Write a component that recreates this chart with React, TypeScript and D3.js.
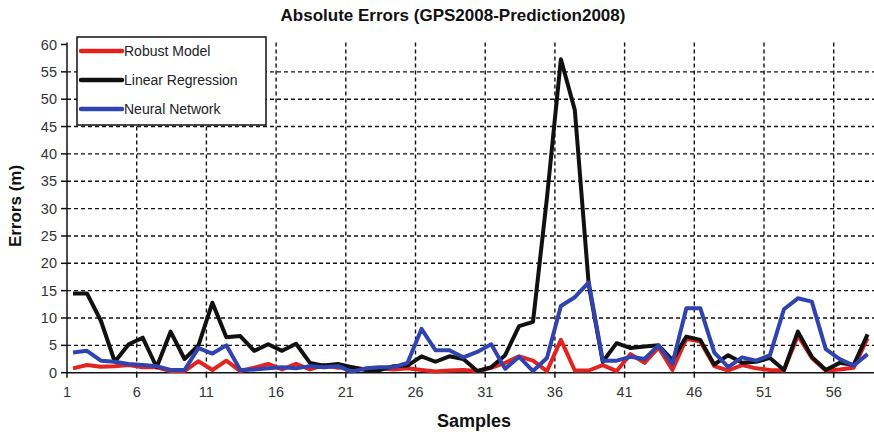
import * as d3 from "d3";

// samples 1..58
const robust = [0.8, 1.4, 1.1, 1.2, 1.4, 1.0, 1.0, 0.3, 0.3, 2.1, 0.5, 2.2, 0.3, 0.9, 1.6, 0.6, 1.6, 0.6, 1.4, 0.9,
  1.0, 0.6, 0.8, 0.6, 0.8, 0.5, 0.2, 0.4, 0.5, 0.3, 0.9, 1.8, 3.0, 2.2, 0.3, 6.0, 0.4, 0.4, 1.4, 0.3,
  3.4, 1.8, 4.6, 0.5, 6.2, 5.7, 1.2, 0.4, 1.4, 0.8, 0.5, 0.4, 6.8, 2.7, 0.4, 0.6, 0.9, 6.3];
const linear = [14.5, 14.5, 9.5, 2.0, 5.2, 6.4, 1.0, 7.5, 2.5, 5.0, 12.8, 6.5, 6.7, 4.0, 5.2, 4.0, 5.3, 1.8, 1.3, 1.6,
  1.0, 0.5, 0.5, 1.2, 1.3, 3.0, 2.0, 3.0, 2.5, 0.3, 1.0, 3.2, 8.5, 9.3, 32.0, 57.3, 48.0, 16.0, 2.0, 5.4,
  4.5, 4.8, 5.0, 2.3, 6.6, 6.0, 1.5, 3.2, 1.8, 2.0, 2.7, 0.5, 7.5, 2.9, 0.5, 1.8, 1.4, 7.0];
const neural = [3.7, 4.0, 2.2, 2.0, 1.6, 1.4, 1.2, 0.5, 0.5, 4.5, 3.5, 5.0, 0.5, 0.6, 0.8, 1.0, 0.8, 1.2, 1.0, 1.2,
  0.2, 0.8, 1.0, 1.0, 1.8, 8.0, 4.1, 4.1, 2.8, 3.8, 5.2, 0.7, 2.9, 0.3, 2.7, 12.2, 13.8, 16.5, 2.2, 2.2,
  2.9, 2.5, 5.0, 1.6, 11.8, 11.8, 3.7, 1.0, 2.8, 2.2, 3.2, 11.6, 13.6, 13.0, 4.3, 2.5, 1.3, 3.4];

const seriesNames = ["Robust Model", "Linear Regression", "Neural Network"];
const seriesColors = ["#e3231f", "#111111", "#3043ae"];
const xTicks = [1, 6, 11, 16, 21, 26, 31, 36, 41, 46, 51, 56];
const yTicks = [0, 5, 10, 15, 20, 25, 30, 35, 40, 45, 50, 55, 60];

const W = 874, H = 432;
const left = 67, bottom = 372.7, top = 44.5;
const step = 13.94;
const pointShift = 0.43; // points sit a little right of the labelled ticks

export default function App() {
  const x = d3.scaleLinear().domain([1, 59]).range([left, left + 58 * step]);
  const y = d3.scaleLinear().domain([0, 60]).range([bottom, top]);
  const all = [robust, linear, neural];
  const line = d3.line<number>()
    .x((_, i) => x(i + 1 + pointShift))
    .y(d => y(d));
  const font = "'Liberation Sans', Arial, sans-serif";

  return (
    <svg width={W} height={H} style={{ position: "absolute", left: 0, top: 0, background: "#fff" }}
      fontFamily={font}>
      <text x={453} y={21} textAnchor="middle" fontSize={17} fontWeight="bold" fill="#111">
        Absolute Errors (GPS2008-Prediction2008)
      </text>

      {/* grid */}
      {yTicks.filter(t => t > 0 && t < 60).map(t => (
        <line key={"gy" + t} x1={left} x2={W} y1={y(t)} y2={y(t)}
          stroke="#111" strokeWidth={1.4} strokeDasharray="4 3" />
      ))}
      {xTicks.filter(t => t > 1).map(t => (
        <line key={"gx" + t} x1={x(t)} x2={x(t)} y1={top - 2} y2={bottom}
          stroke="#111" strokeWidth={1.4} strokeDasharray="4 3" />
      ))}

      {/* axes */}
      <line x1={left} x2={left} y1={top - 2} y2={bottom} stroke="#111" strokeWidth={1.5} />
      <line x1={left} x2={W} y1={bottom} y2={bottom} stroke="#111" strokeWidth={1.5} />
      {yTicks.map(t => (
        <g key={"ty" + t}>
          <line x1={left - 6} x2={left} y1={y(t)} y2={y(t)} stroke="#111" strokeWidth={1.5} />
          <text x={left - 10} y={y(t) + 5} textAnchor="end" fontSize={14.5} fill="#333">{t}</text>
        </g>
      ))}
      {xTicks.map(t => (
        <g key={"tx" + t}>
          <line x1={x(t)} x2={x(t)} y1={bottom} y2={bottom + 5} stroke="#111" strokeWidth={1.5} />
          <text x={x(t)} y={bottom + 24} textAnchor="middle" fontSize={14.5} fill="#333">{t}</text>
        </g>
      ))}

      {/* series */}
      {all.map((s, i) => (
        <path key={seriesNames[i]} d={line(s) ?? ""} fill="none" stroke={seriesColors[i]}
          strokeWidth={4} strokeLinejoin="round" />
      ))}

      {/* legend */}
      <rect x={77} y={37} width={189} height={88} fill="#fff" stroke="#111" strokeWidth={1.5} />
      {seriesNames.map((n, i) => (
        <g key={"lg" + n}>
          <line x1={81} x2={122} y1={51 + i * 29} y2={51 + i * 29} stroke={seriesColors[i]}
            strokeWidth={4.5} strokeLinecap="round" />
          <text x={124} y={56 + i * 29} fontSize={14} fill="#222">{n}</text>
        </g>
      ))}

      <text transform="translate(21,206) rotate(-90)" textAnchor="middle" fontSize={17}
        fontWeight="bold" fill="#111">Errors (m)</text>
      <text x={474} y={427} textAnchor="middle" fontSize={18} fontWeight="bold" fill="#111">Samples</text>
    </svg>
  );
}
